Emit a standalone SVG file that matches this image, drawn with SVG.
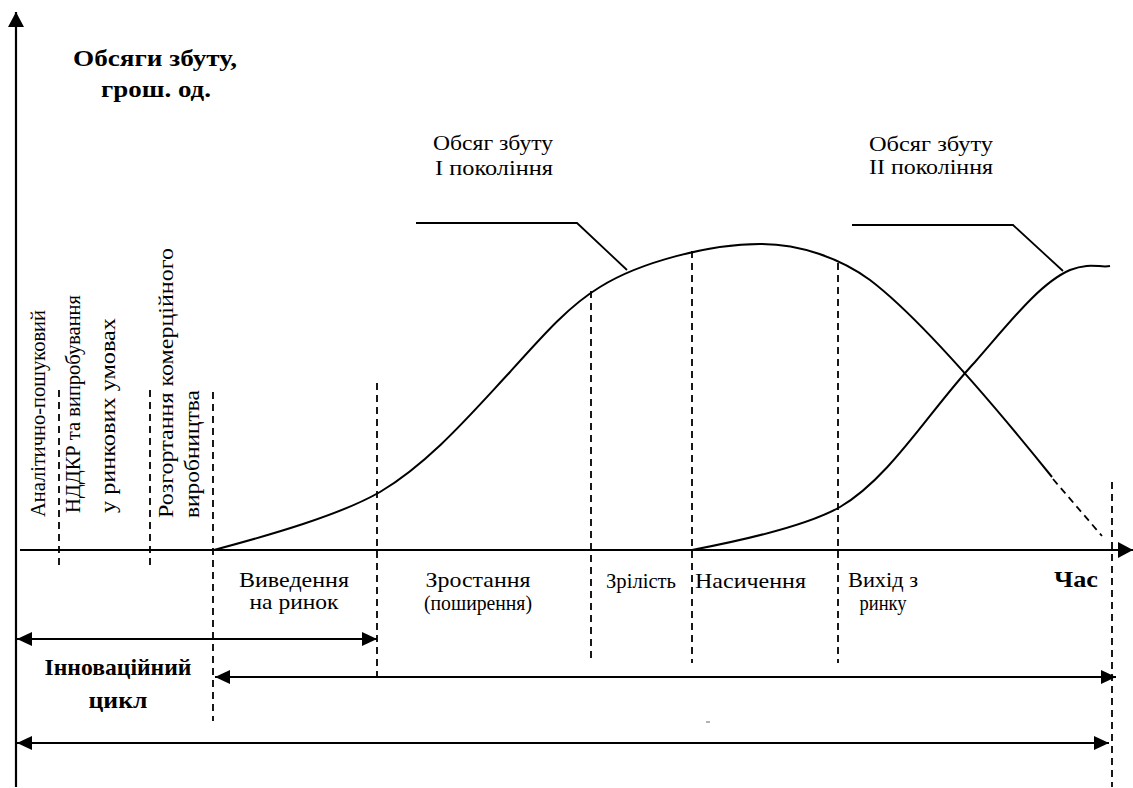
<svg xmlns="http://www.w3.org/2000/svg" width="1133" height="788" viewBox="0 0 1133 788" font-family="Liberation Serif, serif">
<style>
  text { fill: #000; }
  .b { font-weight: bold; font-size: 24px; }
  .r { font-size: 22px; }
  .s { font-size: 21px; }
  .v { font-size: 22px; }
  .ax { stroke: #000; stroke-width: 2.2; fill: none; }
  .cv { stroke: #000; stroke-width: 2; fill: none; }
  .dash { stroke: #000; stroke-width: 1.8; stroke-dasharray: 7 5; fill: none; }
  .ldr { stroke: #000; stroke-width: 1.8; fill: none; }
</style>
<defs>
  <marker id="ah" markerUnits="userSpaceOnUse" markerWidth="16" markerHeight="14" refX="15" refY="7" orient="auto-start-reverse" viewBox="0 0 16 14">
    <path d="M0,0 L15,7 L0,14 z" fill="#000"/>
  </marker>
  <marker id="ahAxis" markerUnits="userSpaceOnUse" markerWidth="16" markerHeight="16" refX="15" refY="8" orient="auto" viewBox="0 0 16 16">
    <path d="M0,0 L15,8 L0,16 z" fill="#000"/>
  </marker>
</defs>
<rect width="1133" height="788" fill="#fff"/>

<g id="connectors">
  <line class="ax" x1="16" y1="787" x2="16" y2="12" marker-end="url(#ahAxis)"/>
  <line class="ax" x1="20" y1="550" x2="1133" y2="550" marker-end="url(#ahAxis)"/>
  <line class="dash" x1="59" y1="390" x2="59" y2="566"/>
  <line class="dash" x1="150" y1="390" x2="150" y2="566"/>
  <line class="dash" x1="213" y1="392" x2="213" y2="721"/>
  <line class="dash" x1="377" y1="383" x2="377" y2="681"/>
  <line class="dash" x1="591" y1="291" x2="591" y2="663"/>
  <line class="dash" x1="692" y1="251" x2="692" y2="663"/>
  <line class="dash" x1="838" y1="263" x2="838" y2="663"/>
  <line class="dash" x1="1112" y1="482" x2="1112" y2="787"/>
  <line class="ax" x1="17" y1="639" x2="377" y2="639" marker-start="url(#ah)" marker-end="url(#ah)"/>
  <line class="ax" x1="215" y1="677" x2="1116" y2="677" marker-start="url(#ah)" marker-end="url(#ah)"/>
  <line class="ax" x1="17" y1="743" x2="1109" y2="743" marker-start="url(#ah)" marker-end="url(#ah)"/>
  <line x1="706" y1="722" x2="710" y2="722" stroke="#666" stroke-width="1"/>
  <polyline class="ldr" points="416,223 577,223 627,270"/>
  <polyline class="ldr" points="852,225 1013,225 1063,271"/>
</g>

<g id="curve-gen1">
  <path class="cv" d="M214,550 C270,535 340,515 380,492 C430,462 470,415 510,372 C545,333 570,305 600,287 C640,262 710,244 760,244 C800,244 840,258 870,280 C920,318 990,400 1052,477"/>
  <path class="dash" d="M1053,479 L1102,536"/>
</g>

<g id="curve-gen2">
  <path class="cv" d="M692,550 C760,537 810,524 840,507 C890,478 930,410 975,362 C1010,322 1040,283 1070,270 C1090,262 1100,268 1110,266"/>
</g>

<g id="y-axis-label">
  <text class="b" x="155" y="66" text-anchor="middle" textLength="164" lengthAdjust="spacingAndGlyphs">Обсяги збуту,</text>
  <text class="b" x="156" y="97" text-anchor="middle" textLength="110" lengthAdjust="spacingAndGlyphs">грош. од.</text>
</g>

<g id="label-gen1">
  <text class="r" x="493" y="150" text-anchor="middle" textLength="120" lengthAdjust="spacingAndGlyphs">Обсяг збуту</text>
  <text class="r" x="494" y="175" text-anchor="middle" textLength="118" lengthAdjust="spacingAndGlyphs">І покоління</text>
</g>

<g id="label-gen2">
  <text class="r" x="931" y="151" text-anchor="middle" textLength="124" lengthAdjust="spacingAndGlyphs">Обсяг збуту</text>
  <text class="r" x="931" y="174" text-anchor="middle" textLength="124" lengthAdjust="spacingAndGlyphs">ІІ покоління</text>
</g>

<g id="stage-analytic">
  <text class="v" transform="translate(45,517) rotate(-90)" textLength="207" lengthAdjust="spacingAndGlyphs">Аналітично-пошуковий</text>
</g>
<g id="stage-rnd">
  <text class="v" transform="translate(80,513) rotate(-90)" textLength="218" lengthAdjust="spacingAndGlyphs">НДДКР та випробування</text>
  <text class="v" transform="translate(115,513) rotate(-90)" textLength="195" lengthAdjust="spacingAndGlyphs">у ринкових умовах</text>
</g>
<g id="stage-production">
  <text class="v" transform="translate(173,518) rotate(-90)" textLength="270" lengthAdjust="spacingAndGlyphs">Розгортання комерційного</text>
  <text class="v" transform="translate(199,518) rotate(-90)" textLength="128" lengthAdjust="spacingAndGlyphs">виробництва</text>
</g>

<g id="stage-intro">
  <text class="s" x="294" y="587" text-anchor="middle" textLength="110" lengthAdjust="spacingAndGlyphs">Виведення</text>
  <text class="s" x="294" y="609" text-anchor="middle" textLength="89" lengthAdjust="spacingAndGlyphs">на ринок</text>
</g>
<g id="stage-growth">
  <text class="s" x="478" y="587" text-anchor="middle" textLength="105" lengthAdjust="spacingAndGlyphs">Зростання</text>
  <text class="s" x="478" y="610" text-anchor="middle" textLength="108" lengthAdjust="spacingAndGlyphs">(поширення)</text>
</g>
<g id="stage-maturity">
  <text class="r" x="606" y="588" textLength="70" lengthAdjust="spacingAndGlyphs">Зрілість</text>
</g>
<g id="stage-saturation">
  <text class="r" x="695" y="588" textLength="111" lengthAdjust="spacingAndGlyphs">Насичення</text>
</g>
<g id="stage-exit">
  <text class="s" x="883" y="587" text-anchor="middle" textLength="70" lengthAdjust="spacingAndGlyphs">Вихід з</text>
  <text class="s" x="883" y="610" text-anchor="middle" textLength="47" lengthAdjust="spacingAndGlyphs">ринку</text>
</g>
<g id="time-label">
  <text class="b" x="1054" y="587" textLength="44" lengthAdjust="spacingAndGlyphs">Час</text>
</g>
<g id="innovation-cycle">
  <text class="b" x="118" y="675" text-anchor="middle" textLength="147" lengthAdjust="spacingAndGlyphs">Інноваційний</text>
  <text class="b" x="118" y="708" text-anchor="middle" textLength="59" lengthAdjust="spacingAndGlyphs">цикл</text>
</g>
</svg>
